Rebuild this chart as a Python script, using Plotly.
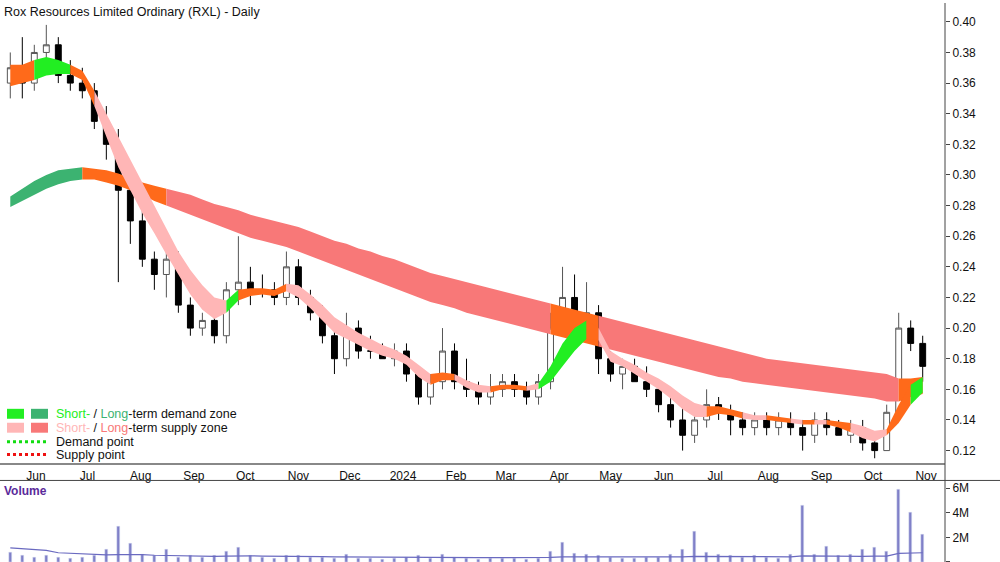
import pandas as pd
import plotly.graph_objects as go

# weekly bars, Wednesday of each week
weeks = pd.date_range("2023-05-24", periods=77, freq="7D")

opens = [0.36,0.37,0.36,0.38,0.385,0.365,0.36,0.355,0.335,0.32,0.29,0.27,0.245,0.235,0.245,0.215,0.20,0.205,0.195,0.225,
         0.23,0.225,0.225,0.22,0.24,0.22,0.21,0.195,0.18,0.20,0.185,0.185,0.18,0.185,0.17,0.155,0.165,0.185,0.165,0.16,
         0.155,0.16,0.165,0.16,0.155,0.165,0.20,0.22,0.20,0.21,0.18,0.17,0.175,0.165,0.16,0.15,0.14,0.13,0.14,0.15,
         0.145,0.14,0.135,0.14,0.135,0.14,0.135,0.13,0.14,0.135,0.13,0.135,0.125,0.12,0.145,0.20,0.19]
highs = [0.38,0.39,0.385,0.398,0.39,0.375,0.37,0.36,0.345,0.33,0.30,0.28,0.25,0.25,0.25,0.22,0.21,0.21,0.23,0.26,
         0.24,0.235,0.23,0.25,0.245,0.225,0.215,0.20,0.21,0.205,0.195,0.19,0.19,0.19,0.175,0.17,0.20,0.19,0.18,0.165,
         0.17,0.17,0.17,0.165,0.17,0.21,0.24,0.235,0.23,0.215,0.185,0.18,0.18,0.175,0.165,0.155,0.15,0.145,0.16,0.155,
         0.15,0.145,0.145,0.145,0.145,0.145,0.14,0.145,0.145,0.14,0.14,0.14,0.13,0.15,0.21,0.205,0.195]
lows = [0.35,0.35,0.355,0.37,0.36,0.355,0.35,0.33,0.31,0.23,0.255,0.24,0.225,0.22,0.21,0.195,0.195,0.19,0.19,0.215,
        0.215,0.22,0.215,0.215,0.215,0.205,0.19,0.17,0.175,0.18,0.18,0.18,0.175,0.165,0.15,0.15,0.16,0.16,0.155,0.15,
        0.15,0.155,0.155,0.15,0.15,0.16,0.195,0.19,0.195,0.17,0.165,0.16,0.165,0.155,0.145,0.135,0.12,0.125,0.135,0.14,
        0.13,0.13,0.13,0.13,0.13,0.13,0.12,0.125,0.13,0.13,0.125,0.12,0.115,0.12,0.14,0.185,0.165]
closes = [0.37,0.36,0.38,0.385,0.365,0.36,0.355,0.335,0.32,0.29,0.27,0.245,0.235,0.245,0.215,0.20,0.205,0.195,0.225,0.23,
          0.225,0.225,0.22,0.24,0.22,0.21,0.195,0.18,0.20,0.185,0.185,0.18,0.185,0.17,0.155,0.165,0.185,0.165,0.16,0.155,
          0.16,0.165,0.16,0.155,0.165,0.20,0.22,0.20,0.21,0.18,0.17,0.175,0.165,0.16,0.15,0.14,0.13,0.14,0.15,0.145,
          0.14,0.135,0.14,0.135,0.14,0.135,0.13,0.14,0.135,0.13,0.135,0.125,0.12,0.145,0.20,0.19,0.175]

# short-term zone (upper/lower) and state: g demand, o transition, p supply
short_hi = [0.372,0.372,0.375,0.377,0.375,0.372,0.368,0.355,0.340,0.325,0.310,0.295,0.280,0.265,0.250,0.238,0.228,0.220,0.218,0.225,
            0.226,0.226,0.225,0.229,0.228,0.222,0.215,0.207,0.202,0.197,0.193,0.189,0.186,0.182,0.176,0.170,0.171,0.170,0.166,0.163,
            0.162,0.163,0.163,0.162,0.164,0.175,0.190,0.200,0.205,0.200,0.185,0.180,0.176,0.171,0.167,0.162,0.156,0.151,0.149,0.149,
            0.147,0.145,0.143,0.143,0.142,0.141,0.140,0.140,0.140,0.139,0.138,0.136,0.133,0.134,0.150,0.163,0.168]
short_lo = [0.358,0.360,0.362,0.365,0.366,0.366,0.362,0.345,0.325,0.305,0.290,0.275,0.262,0.248,0.235,0.222,0.212,0.206,0.210,0.218,
            0.221,0.222,0.221,0.224,0.220,0.213,0.205,0.197,0.193,0.189,0.185,0.182,0.180,0.176,0.168,0.163,0.166,0.166,0.161,0.158,
            0.158,0.160,0.160,0.159,0.160,0.165,0.175,0.185,0.193,0.192,0.178,0.175,0.170,0.165,0.160,0.154,0.147,0.142,0.142,0.144,
            0.143,0.141,0.140,0.140,0.139,0.138,0.137,0.137,0.137,0.135,0.132,0.128,0.126,0.130,0.138,0.150,0.158]
short_state = "oogggoopppppppppppgooooppppppppppppoopppooopggggopppppppppooopporpopoopppoogggg"
short_state = short_state.replace("r", "o")[:77]

# long-term zone
long_hi = [0.286,0.291,0.296,0.300,0.303,0.304,0.305,0.304,0.303,0.301,0.298,0.295,0.293,0.291,0.289,0.287,0.284,0.281,0.279,0.277,
           0.274,0.272,0.270,0.268,0.266,0.263,0.260,0.257,0.255,0.252,0.250,0.247,0.245,0.242,0.239,0.236,0.234,0.232,0.230,0.228,
           0.226,0.224,0.222,0.220,0.218,0.216,0.214,0.212,0.210,0.208,0.206,0.204,0.202,0.200,0.198,0.196,0.194,0.192,0.190,0.188,
           0.186,0.184,0.182,0.180,0.179,0.178,0.177,0.176,0.175,0.174,0.173,0.172,0.171,0.170,0.167,0.167,0.168]
long_lo = [0.279,0.283,0.287,0.291,0.294,0.296,0.297,0.297,0.295,0.293,0.290,0.287,0.283,0.280,0.277,0.274,0.271,0.268,0.265,0.262,
           0.259,0.257,0.255,0.253,0.250,0.247,0.244,0.241,0.238,0.235,0.232,0.229,0.226,0.223,0.220,0.217,0.215,0.213,0.210,0.208,
           0.206,0.204,0.202,0.200,0.198,0.196,0.194,0.192,0.190,0.188,0.186,0.184,0.182,0.180,0.178,0.176,0.174,0.172,0.170,0.168,
           0.167,0.165,0.164,0.163,0.162,0.161,0.160,0.159,0.158,0.157,0.156,0.155,0.154,0.152,0.152,0.155,0.157]
long_state = "gggggg" + "o" * 7 + "r" * 32 + "o" * 4 + "r" * 25 + "ooo"

volume = [0.8,0.5,0.4,0.5,0.4,0.3,0.4,0.5,1.0,2.9,1.5,0.6,0.5,1.0,0.4,0.5,0.4,0.5,0.9,1.2,
          0.5,0.4,0.3,0.5,0.5,0.4,0.4,0.3,0.6,0.3,0.3,0.2,0.3,0.4,0.5,0.3,0.6,0.4,0.3,0.2,
          0.3,0.3,0.3,0.2,0.3,0.9,1.6,0.7,0.6,0.5,0.4,0.3,0.3,0.4,0.4,0.6,1.0,2.5,0.8,0.6,
          0.5,0.4,0.5,0.4,0.3,0.6,4.6,0.6,1.3,0.5,0.6,1.0,1.2,0.9,5.9,4.0,2.2]
volume_avg = [1.15,1.1,1.05,0.95,0.75,0.7,0.65,0.6,0.58,0.6,0.62,0.6,0.55,0.52,0.5,0.48,0.47,0.46,0.47,0.5,
              0.5,0.48,0.46,0.45,0.45,0.44,0.43,0.42,0.42,0.41,0.4,0.39,0.38,0.38,0.38,0.37,0.38,0.38,0.37,0.36,
              0.35,0.35,0.35,0.34,0.34,0.38,0.42,0.42,0.42,0.41,0.4,0.39,0.38,0.38,0.38,0.39,0.41,0.45,0.45,0.44,
              0.43,0.42,0.42,0.41,0.4,0.42,0.5,0.48,0.48,0.46,0.45,0.46,0.47,0.48,0.7,0.75,0.75]

month_ticks = pd.date_range("2023-06-01", "2024-11-01", freq="MS")
month_labels = [("2024" if d.year == 2024 and d.month == 1 else d.strftime("%b")) for d in month_ticks]

short_colors = {"g": "#22ee22", "o": "#ff6a1a", "p": "#ffb6b6"}
long_colors = {"g": "#3cb371", "o": "#ff6a1a", "r": "#f87878"}

fig = go.Figure()


def add_zone(hi, lo, state, colors):
    i = 0
    n = len(state)
    while i < n:
        j = i
        while j + 1 < n and state[j + 1] == state[i]:
            j += 1
        end = min(j + 1, n - 1)
        xs = list(weeks[i:end + 1])
        fig.add_trace(go.Scatter(x=xs, y=lo[i:end + 1], mode="lines", line=dict(width=0),
                                 hoverinfo="skip", showlegend=False))
        fig.add_trace(go.Scatter(x=xs, y=hi[i:end + 1], mode="lines", line=dict(width=0),
                                 fill="tonexty", fillcolor=colors[state[i]],
                                 hoverinfo="skip", showlegend=False))
        i = j + 1


add_zone(long_hi, long_lo, long_state, long_colors)
add_zone(short_hi, short_lo, short_state, short_colors)

fig.add_trace(go.Candlestick(
    x=weeks, open=opens, high=highs, low=lows, close=closes,
    increasing=dict(line=dict(color="#555555", width=1), fillcolor="#ffffff"),
    decreasing=dict(line=dict(color="#000000", width=1), fillcolor="#000000"),
    whiskerwidth=0, showlegend=False, xaxis="x", yaxis="y"))

fig.add_trace(go.Bar(x=weeks, y=[v * 1e6 for v in volume], marker_color="#8080c8",
                     width=1.5 * 86400000, showlegend=False, xaxis="x2", yaxis="y2"))
fig.add_trace(go.Scatter(x=weeks, y=[v * 1e6 for v in volume_avg], mode="lines",
                         line=dict(color="#6a6ac0", width=1.2), showlegend=False,
                         xaxis="x2", yaxis="y2"))

W, H, R = 1000, 562, 55
pw = W - R


def px(x):
    return x / pw


def py(y):
    return 1 - y / H


shapes = []
annotations = []
legend_rows = [
    (413, "#22ee22", "#3cb371",
     "<span style='color:#22ee22'>Short-</span> / <span style='color:#3cb371'>Long</span>-term demand zone"),
    (427, "#ffb6b6", "#f87878",
     "<span style='color:#ffb6b6'>Short-</span> / <span style='color:#f87878'>Long</span>-term supply zone"),
]
for y, c1, c2, txt in legend_rows:
    for x0, c in ((7, c1), (31, c2)):
        shapes.append(dict(type="rect", xref="paper", yref="paper", x0=px(x0), x1=px(x0 + 17),
                           y0=py(y + 5), y1=py(y - 5), fillcolor=c, line=dict(width=0)))
    annotations.append(dict(xref="paper", yref="paper", x=px(54), y=py(y), text=txt, showarrow=False,
                            xanchor="left", yanchor="middle", font=dict(size=12.5, color="#111111")))
for y, c, txt in ((441, "#11dd11", "Demand point"), (454, "#ee1111", "Supply point")):
    shapes.append(dict(type="line", xref="paper", yref="paper", x0=px(7), x1=px(48), y0=py(y), y1=py(y),
                       line=dict(color=c, width=3, dash="dot")))
    annotations.append(dict(xref="paper", yref="paper", x=px(54), y=py(y), text=txt, showarrow=False,
                            xanchor="left", yanchor="middle", font=dict(size=12.5, color="#111111")))

annotations.append(dict(xref="paper", yref="paper", x=px(2), y=1.0, text="Rox Resources Limited Ordinary (RXL) - Daily",
                        showarrow=False, xanchor="left", yanchor="top", font=dict(size=12.5, color="#111111")))
annotations.append(dict(xref="paper", yref="paper", x=px(2), y=py(482), text="<b>Volume</b>",
                        showarrow=False, xanchor="left", yanchor="top", font=dict(size=12, color="#5a2a9a")))

# separator lines
shapes.append(dict(type="line", xref="paper", yref="paper", x0=0, x1=px(W), y0=py(480), y1=py(480),
                   line=dict(color="#444444", width=1)))
shapes.append(dict(type="line", xref="paper", yref="paper", x0=1, x1=1, y0=0, y1=1,
                   line=dict(color="#444444", width=1)))

fig.update_layout(
    width=W, height=H, margin=dict(l=0, r=R, t=0, b=0),
    paper_bgcolor="white", plot_bgcolor="white",
    font=dict(family="Liberation Sans, Arial, sans-serif", size=12, color="#111111"),
    xaxis=dict(range=["2023-05-18", "2024-11-19"], rangeslider=dict(visible=False), anchor="y",
               tickvals=[d + pd.Timedelta(days=7) for d in month_ticks], ticktext=month_labels,
               tickfont=dict(size=12, color="#111111"), showgrid=False, showline=True,
               linecolor="#888888", linewidth=2, ticks="", ticklabelstandoff=1),
    yaxis=dict(domain=[py(462), 1], range=[0.1122, 0.4123], side="right", anchor="x",
               tickvals=[0.12 + 0.02 * k for k in range(15)], tickformat=".2f",
               ticks="outside", ticklen=4, showgrid=False, zeroline=False,
               tickfont=dict(size=12, color="#111111")),
    xaxis2=dict(matches="x", anchor="y2", showticklabels=False, showgrid=False),
    yaxis2=dict(domain=[0, py(484)], range=[0, 6.3e6], side="right", anchor="x2",
                tickvals=[0, 2e6, 4e6, 6e6], ticktext=["0", "2M", "4M", "6M"],
                ticks="outside", ticklen=4, showgrid=False, zeroline=False,
                tickfont=dict(size=12, color="#111111")),
    bargap=0, shapes=shapes, annotations=annotations,
)

fig.write_html("out.html", config={"displayModeBar": False},
               post_script="document.body.style.margin='0';document.body.style.overflow='hidden';")
